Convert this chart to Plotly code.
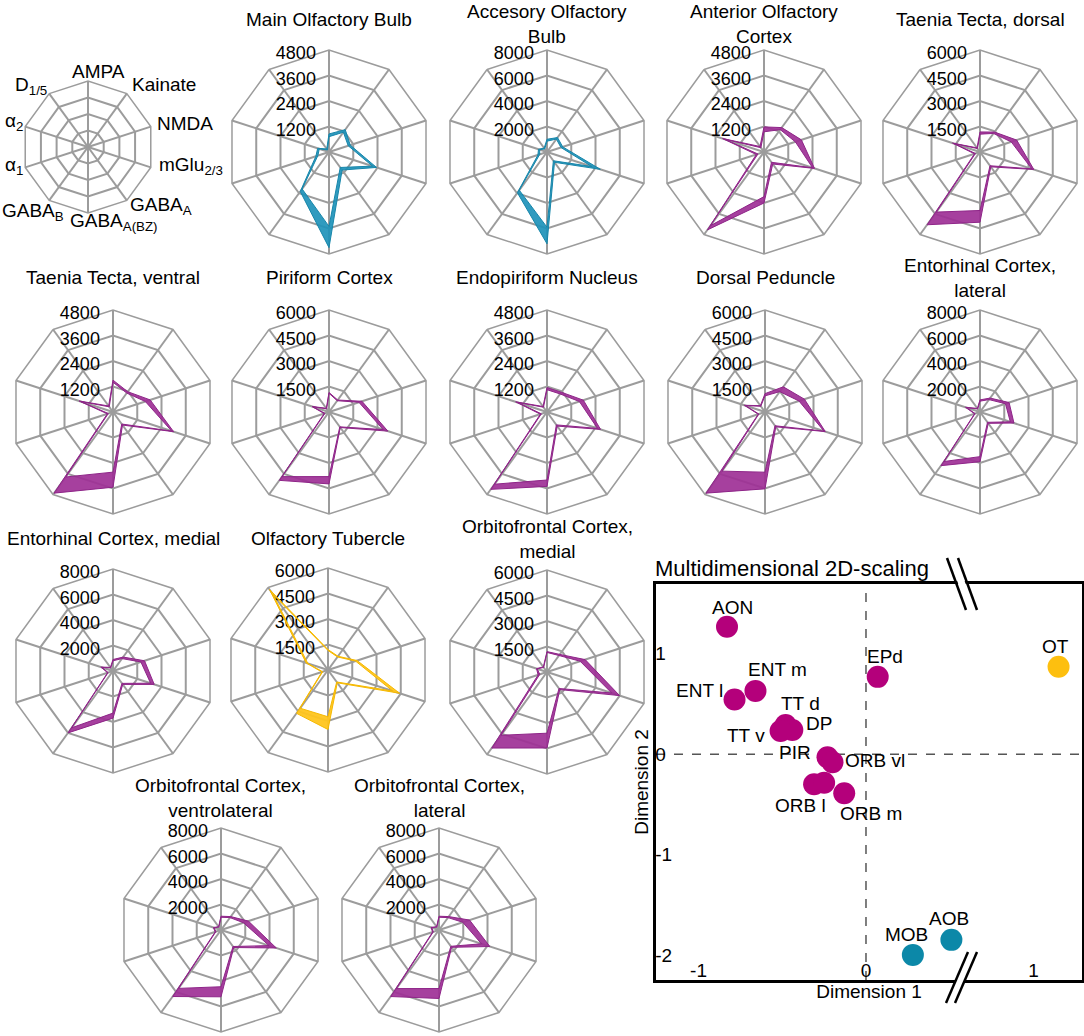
import plotly.graph_objects as go

W, H = 1084, 1036
FONT = "Liberation Sans, Arial, sans-serif"

RECEPTORS = ['AMPA', 'Kainate', 'NMDA', 'mGlu<sub>2/3</sub>', 'GABA<sub>A</sub>',
             'GABA<sub>A(BZ)</sub>', 'GABA<sub>B</sub>', 'α<sub>1</sub>', 'α<sub>2</sub>',
             'D<sub>1/5</sub>']

# receptor densities (lower / upper edge of band), order as RECEPTORS
MOB_LOW = [720, 1150, 950, 2150, 900, 3500, 2150, 550, 480, 120]
MOB_HIGH = [850, 1300, 1050, 2350, 1050, 4500, 2300, 650, 560, 180]
AOB_LOW = [850, 1250, 1150, 3700, 850, 5900, 3700, 600, 600, 300]
AOB_HIGH = [1000, 1400, 1300, 4400, 1000, 7200, 3950, 750, 700, 380]
AON_LOW = [950, 1300, 1550, 2400, 600, 2100, 4280, 300, 1950, 250]
AON_HIGH = [1180, 1420, 1850, 2500, 700, 2400, 4530, 380, 2050, 320]
TTD_LOW = [1050, 1350, 1930, 3200, 1000, 3440, 4370, 280, 1600, 250]
TTD_HIGH = [1180, 1450, 2270, 3330, 1080, 4130, 5290, 340, 1700, 300]
TTV_LOW = [1400, 1100, 1600, 2900, 700, 2830, 3780, 230, 1600, 300]
TTV_HIGH = [1500, 1180, 1840, 3000, 760, 3540, 4720, 280, 1680, 350]
PIR_LOW = [1100, 820, 1850, 3350, 1080, 3800, 4700, 250, 1000, 230]
PIR_HIGH = [1150, 870, 2040, 3640, 1130, 4230, 4970, 300, 1050, 270]
EPD_LOW = [1050, 1050, 1600, 2500, 750, 3200, 4200, 280, 1450, 280]
EPD_HIGH = [1150, 1150, 1800, 2650, 820, 3500, 4500, 330, 1550, 320]
DP_LOW = [950, 1480, 2100, 3650, 1000, 3540, 4300, 380, 1200, 420]
DP_HIGH = [1080, 1830, 2440, 3730, 1080, 4520, 5900, 420, 1280, 460]
ENTL_LOW = [850, 1200, 2100, 2500, 1000, 3500, 4800, 400, 1100, 300]
ENTL_HIGH = [950, 1350, 2400, 2800, 1100, 3900, 5200, 450, 1200, 350]
ENTM_LOW = [800, 1200, 2300, 3100, 1200, 3300, 5500, 400, 900, 300]
ENTM_HIGH = [900, 1350, 2600, 3400, 1300, 3700, 6000, 450, 1000, 350]
OT_LOW = [1150, 950, 1700, 4000, 870, 2750, 2780, 330, 1250, 5500]
OT_HIGH = [1200, 1000, 1800, 4430, 930, 3500, 3150, 380, 1350, 5850]
ORBM_LOW = [1150, 1200, 2050, 4000, 1200, 3600, 4600, 450, 600, 330]
ORBM_HIGH = [1200, 1280, 2360, 4490, 1280, 4470, 5530, 550, 650, 370]
ORBVL_LOW = [1000, 1200, 1850, 3960, 1600, 4450, 5660, 420, 570, 280]
ORBVL_HIGH = [1080, 1300, 2260, 4560, 1700, 5240, 6450, 480, 630, 320]
ORBL_LOW = [1000, 1200, 1960, 3500, 1580, 4590, 5680, 470, 600, 280]
ORBL_HIGH = [1080, 1300, 2520, 4190, 1680, 5370, 6450, 530, 660, 320]

# panels: title, axis maximum, colour group, data
PANELS = [
    ("Main Olfactory Bulb", 4800, 'blue', MOB_LOW, MOB_HIGH),
    ("Accesory Olfactory<br>Bulb", 8000, 'blue', AOB_LOW, AOB_HIGH),
    ("Anterior Olfactory<br>Cortex", 4800, 'purple', AON_LOW, AON_HIGH),
    ("Taenia Tecta, dorsal", 6000, 'purple', TTD_LOW, TTD_HIGH),
    ("Taenia Tecta, ventral", 4800, 'purple', TTV_LOW, TTV_HIGH),
    ("Piriform Cortex", 6000, 'purple', PIR_LOW, PIR_HIGH),
    ("Endopiriform Nucleus", 4800, 'purple', EPD_LOW, EPD_HIGH),
    ("Dorsal Peduncle", 6000, 'purple', DP_LOW, DP_HIGH),
    ("Entorhinal Cortex,<br>lateral", 8000, 'purple', ENTL_LOW, ENTL_HIGH),
    ("Entorhinal Cortex, medial", 8000, 'purple', ENTM_LOW, ENTM_HIGH),
    ("Olfactory Tubercle", 6000, 'yellow', OT_LOW, OT_HIGH),
    ("Orbitofrontal Cortex,<br>medial", 6000, 'purple', ORBM_LOW, ORBM_HIGH),
    ("Orbitofrontal Cortex,<br>ventrolateral", 8000, 'purple', ORBVL_LOW, ORBVL_HIGH),
    ("Orbitofrontal Cortex,<br>lateral", 8000, 'purple', ORBL_LOW, ORBL_HIGH),
]

# MDS scatter
MDS_LABELS = ['AON', 'OT', 'EPd', 'ENT m', 'ENT l', 'TT d', 'DP', 'TT v', 'PIR',
              'ORB vl', 'ORB l', '', 'ORB m', 'MOB', 'AOB']
MDS_DIM1 = [-0.83, 1.15, 0.07, -0.66, -0.785, -0.48, -0.44, -0.51, -0.23,
            -0.20, -0.31, -0.25, -0.13, 0.28, 0.51]
MDS_DIM2 = [1.27, 0.87, 0.77, 0.63, 0.545, 0.29, 0.24, 0.23, -0.03,
            -0.08, -0.30, -0.285, -0.39, -2.0, -1.85]
MDS_GROUP = ['purple', 'yellow', 'purple', 'purple', 'purple', 'purple', 'purple',
             'purple', 'purple', 'purple', 'purple', 'purple', 'purple', 'blue', 'blue']

# ---------------- styling ----------------
BAND = {'blue': ('rgba(30,146,186,0.92)', '#1786aa'),
        'purple': ('rgba(158,48,150,0.92)', '#8e2588'),
        'yellow': ('rgba(255,197,30,0.95)', '#f5b800')}
DOT = {'blue': '#0c88a8', 'purple': '#b4007b', 'yellow': '#fdbf0f'}
GRID = '#9c9c9c'

LEGEND_POS = (88, 147, 66)
# legend label positions (left x, centre y) in px
LEGEND_LABEL_POS = [(70, 72), (130, 84), (155, 123), (157, 166), (128, 206),
                    (68, 222), (0, 212), (3, 166), (3, 122), (13, 86)]
PANEL_POS = [(329, 152), (547, 152), (764, 152), (980, 152),
             (113, 412), (329, 412), (547, 412), (765, 412), (980, 412),
             (113, 671), (328, 670), (547, 672),
             (221, 930), (439, 930)]
R = 102
TITLE_Y = [20, 24, 24, 20,
           277, 277, 277, 277, 278,
           538, 538, 539,
           798, 798]
# label offsets (px) from each MDS point
LABEL_SHIFT = [(5, 19), (-3, 20), (7, 20), (22, 21), (-35, 9), (15, 22), (27, 7),
               (-35, -4), (-32, 5), (42, 2), (-14, -21), (0, 0), (27, -20), (-6, 20), (-2, 21)]


def dom(cx, cy, r):
    return dict(x=[(cx - r) / W, (cx + r) / W], y=[1 - (cy + r) / H, 1 - (cy - r) / H])


def polar_layout(cx, cy, r, rmax, tickvals, show_r):
    return dict(
        domain=dom(cx, cy, r),
        bgcolor='rgba(0,0,0,0)',
        gridshape='linear',
        angularaxis=dict(type='category', categoryarray=RECEPTORS, rotation=90,
                         direction='clockwise', showticklabels=False, ticks='',
                         gridcolor=GRID, gridwidth=1.5, linecolor=GRID, linewidth=1.5,
                         layer='below traces'),
        radialaxis=dict(range=[0, rmax], tickvals=tickvals,
                        ticktext=[str(v) for v in tickvals], showticklabels=show_r,
                        ticks='', showline=False, gridcolor=GRID, gridwidth=1.5,
                        angle=90, side='counterclockwise', layer='below traces',
                        tickfont=dict(size=18, color='black', family=FONT)),
    )


def txt(text, x, y, size=19, xanchor='center'):
    return dict(text=text, x=x / W, y=1 - y / H, xref='paper', yref='paper',
                xanchor=xanchor, yanchor='middle', showarrow=False,
                font=dict(size=size, color='black', family=FONT))


fig = go.Figure()
layout = {}
annotations = []

# legend radar
cx, cy, rl = LEGEND_POS
layout['polar'] = polar_layout(cx, cy, rl, 4, [1, 2, 3, 4], False)
fig.add_trace(go.Scatterpolar(r=[4] * len(RECEPTORS), theta=RECEPTORS, mode='lines',
                              line=dict(color='rgba(0,0,0,0)'), hoverinfo='skip',
                              showlegend=False, subplot='polar'))
for lab, (lx, ly) in zip(RECEPTORS, LEGEND_LABEL_POS):
    annotations.append(txt(lab, lx, ly, 19, 'left'))

for i, (title, rmax, grp, lo, hi) in enumerate(PANELS):
    name = 'polar%d' % (i + 2)
    cx, cy = PANEL_POS[i]
    step = rmax // 4
    layout[name] = polar_layout(cx, cy, R, rmax, [step, 2 * step, 3 * step, 4 * step], True)
    fillc, linec = BAND[grp]
    th = RECEPTORS + RECEPTORS[:1]
    fig.add_trace(go.Scatterpolar(r=lo + lo[:1], theta=th, mode='lines',
                                  line=dict(color=linec, width=1), showlegend=False,
                                  subplot=name))
    fig.add_trace(go.Scatterpolar(r=hi + hi[:1], theta=th, mode='lines', fill='tonext',
                                  fillcolor=fillc, line=dict(color=linec, width=1),
                                  showlegend=False, subplot=name))
    annotations.append(txt(title, cx, TITLE_Y[i]))

# MDS scatter
fig.add_trace(go.Scatter(x=MDS_DIM1, y=MDS_DIM2, mode='markers',
                         marker=dict(size=22, color=[DOT[g] for g in MDS_GROUP], line=dict(width=0)),
                         showlegend=False, xaxis='x', yaxis='y'))
for lab, xv, yv, (dx, dy) in zip(MDS_LABELS, MDS_DIM1, MDS_DIM2, LABEL_SHIFT):
    if lab:
        annotations.append(dict(text=lab, x=xv, y=yv, xref='x', yref='y', xshift=dx, yshift=dy,
                                showarrow=False, xanchor='center', yanchor='middle',
                                font=dict(size=19, color='black', family=FONT)))

X0, X1, Y0, Y1 = 656, 1082, 584, 980
layout['xaxis'] = dict(domain=[X0 / W, X1 / W], range=[-1.254, 1.29], tickvals=[-1, 0, 1],
                       ticktext=['-1', '0', '1'], ticklabelposition='inside', ticks='',
                       showgrid=False, zeroline=False, showline=True, mirror=True,
                       linecolor='black', linewidth=3,
                       tickfont=dict(size=19, color='black', family=FONT),
                       title=dict(text='Dimension 1', font=dict(size=19, color='black', family=FONT),
                                  standoff=2))
layout['yaxis'] = dict(domain=[1 - Y1 / H, 1 - Y0 / H], range=[-2.25, 1.695],
                       tickvals=[-2, -1, 0, 1], ticktext=['-2', '-1', '0', '1'],
                       ticklabelposition='inside', ticks='', showgrid=False, zeroline=False,
                       showline=True, mirror=True, linecolor='black', linewidth=3,
                       tickfont=dict(size=19, color='black', family=FONT),
                       title=dict(text='Dimension 2', font=dict(size=19, color='black', family=FONT),
                                  standoff=2))

shapes = [
    dict(type='line', xref='x', yref='y domain', x0=0, x1=0, y0=0, y1=1,
         line=dict(color='#555555', width=1.5, dash='dash'), layer='below'),
    dict(type='line', xref='x domain', yref='y', x0=0, x1=1, y0=0, y1=0,
         line=dict(color='#555555', width=1.5, dash='dash'), layer='below'),
]


def pline(x0, y0, x1, y1, color, width):
    return dict(type='line', xref='paper', yref='paper', x0=x0 / W, y0=1 - y0 / H,
                x1=x1 / W, y1=1 - y1 / H, line=dict(color=color, width=width), layer='above')


# axis break marks
shapes += [pline(952.5, 558, 971.5, 610, 'white', 7),
           pline(947, 558, 966, 610, 'black', 2.5),
           pline(958, 558, 977, 610, 'black', 2.5),
           pline(972.5, 952, 950.5, 1003, 'white', 7),
           pline(968, 952, 946, 1003, 'black', 2.5),
           pline(977, 952, 955, 1003, 'black', 2.5)]

annotations.append(txt('Multidimensional 2D-scaling', 653, 568, 22, 'left'))

fig.update_layout(width=W, height=H, margin=dict(l=0, r=0, t=0, b=0),
                  paper_bgcolor='white', plot_bgcolor='white',
                  font=dict(family=FONT, color='black'),
                  annotations=annotations, shapes=shapes, **layout)

fig.write_html("out.html", config={'displayModeBar': False},
               post_script="document.body.style.margin='0';document.body.style.overflow='hidden';")
